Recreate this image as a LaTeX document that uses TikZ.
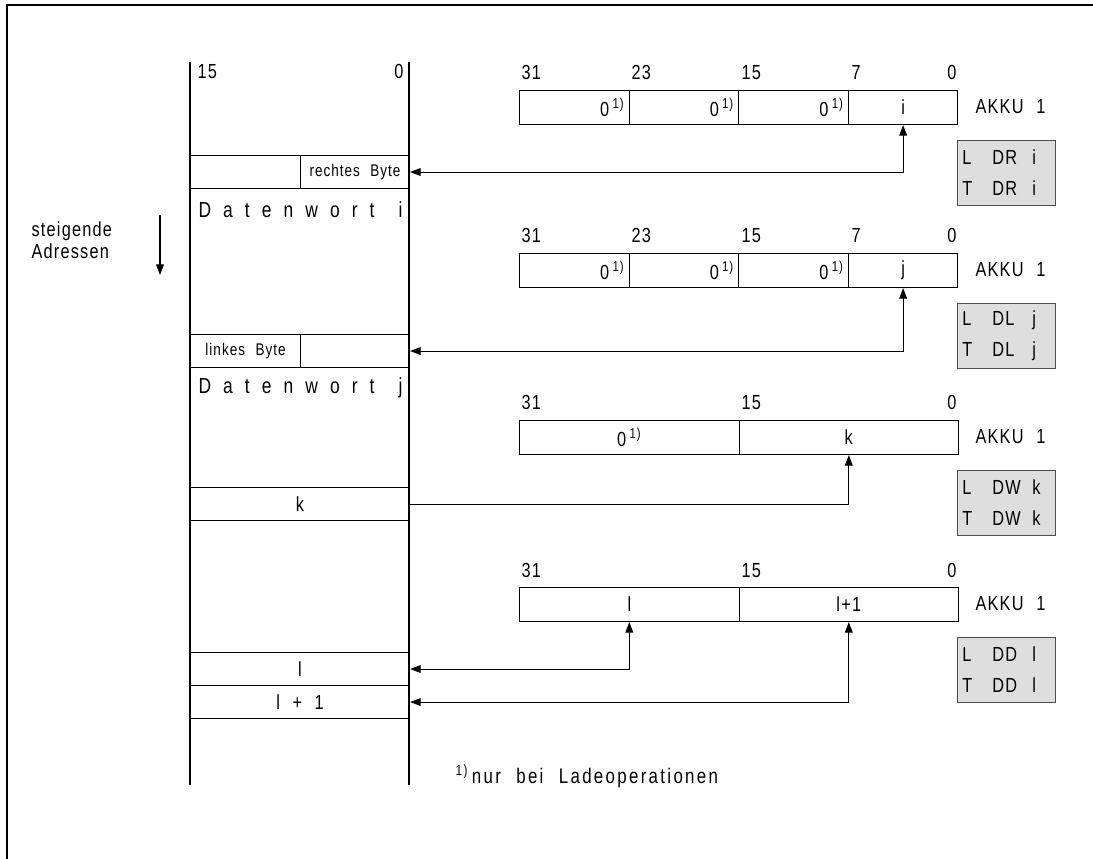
\documentclass[tikz,border=0pt]{standalone}
\usepackage{fontspec}
\setmainfont{Liberation Sans}[FakeStretch=0.8,LetterSpace=6,WordSpace=2.2]
\usetikzlibrary{arrows.meta}

\newcommand{\opzeile}[3]{\makebox[0.75cm][l]{#1}\makebox[1.0cm][l]{#2}#3}
\newcommand{\nulleins}{0\,\textsuperscript{1)}}

\tikzset{
  >={Triangle[length=7.5pt,width=5.5pt]},
  zelle/.style={draw, anchor=north west, inner sep=0pt, minimum height=0.85cm,
    font=\fontsize{14.5}{16}\selectfont},
  nullzelle/.style={zelle, minimum width=2.74cm, text width=2.5cm,
    inner xsep=0.12cm, align=right},
  speicher/.style={draw, anchor=north west, inner sep=0pt, minimum height=0.825cm,
    font=\fontsize{14.5}{16}\selectfont},
  kopf/.style={inner sep=0pt, font=\fontsize{14.5}{16}\selectfont},
  opbox/.style={draw=black!70, fill=black!13, anchor=north west,
    minimum width=2.45cm, minimum height=1.625cm, text width=2.21cm,
    inner xsep=0.12cm, align=left, font=\fontsize{14.5}{22}\selectfont},
}

\begin{document}
\begin{tikzpicture}[x=0.025cm, y=-0.025cm, line width=0.75pt]
    \useasboundingbox (0,0) rectangle (1093,859);
    % Rahmen
    \draw (1093,5) -- (7,5) -- (7,859);
    % Datenbaustein (Speicher)
    \draw (190,62) -- (190,785);
    \draw (409,62) -- (409,785);
    \node[kopf, anchor=base west] (m15) at (197,79) {15};
    \node[kopf, anchor=base east] (m0) at (404,79) {0};
    \node[speicher, minimum width=2.75cm] (rl) at (190,155) {};
    \node[speicher, minimum width=2.725cm, font=\fontsize{12}{14}\selectfont]
        (rb) at (300,155) {rechtes Byte};
    \node[kopf, anchor=west, font=\fontsize{15.5}{17}\selectfont] (dwi) at (198,210)
        {\makebox[5.1cm][l]{D\hfill a\hfill t\hfill e\hfill n\hfill w\hfill o\hfill r\hfill t\hfill\hfill i}};
    \node[speicher, minimum width=2.75cm, font=\fontsize{12}{14}\selectfont]
        (lb) at (190,334) {linkes Byte};
    \node[speicher, minimum width=2.725cm] (lr) at (300,334) {};
    \node[kopf, anchor=west, font=\fontsize{15.5}{17}\selectfont] (dwj) at (198,388)
        {\makebox[5.1cm][l]{D\hfill a\hfill t\hfill e\hfill n\hfill w\hfill o\hfill r\hfill t\hfill\hfill j}};
    \node[speicher, minimum width=5.475cm] (mk) at (190,487) {k};
    \node[speicher, minimum width=5.475cm] (ml) at (190,652) {l};
    \node[speicher, minimum width=5.475cm] (mlp) at (190,685) {l + 1};
    % Adressrichtung
    \node[kopf, anchor=north west, align=left, font=\fontsize{14.5}{15.5}\selectfont]
        (adr) at (31,221) {steigende\\Adressen};
    \coordinate (pa) at (160,215);
    \coordinate (pe) at (160,275);
    \draw[->] (pa) -- (pe);
    % Byte-Register (DR, DL)
    \foreach \n/\y/\v/\o in {1/90/i/DR, 2/253/j/DL}{
        \node[nullzelle] (r\n-a) at (519,\y) {\nulleins};
        \node[nullzelle] (r\n-b) at (628.6,\y) {\nulleins};
        \node[nullzelle] (r\n-c) at (738.2,\y) {\nulleins};
        \node[zelle, minimum width=2.74cm] (r\n-d) at (847.8,\y) {\v};
        \foreach \b/\xx in {31/521, 23/631, 15/741, 7/851}
            \node[kopf, anchor=base west] (k\n-\b) at (\xx,\y-10) {\b};
        \node[kopf, anchor=base east] (k\n-0) at (957,\y-10) {0};
        \node[kopf, anchor=west] (ak\n) at (975,\y+17) {AKKU 1};
        \node[opbox] (op\n) at (957,\y+50) {\opzeile{L}{\o}{\v}\\\opzeile{T}{\o}{\v}};
    }
    % Wort- und Doppelwort-Register (DW, DD)
    \foreach \n/\y/\u/\v in {3/420/\nulleins/k, 4/587/l/l+1}{
        \node[zelle, minimum width=5.4875cm] (r\n-a) at (519,\y) {\u};
        \node[zelle, minimum width=5.4875cm] (r\n-b) at (738.5,\y) {\v};
        \foreach \b/\xx in {31/521, 15/741}
            \node[kopf, anchor=base west] (k\n-\b) at (\xx,\y-10) {\b};
        \node[kopf, anchor=base east] (k\n-0) at (957,\y-10) {0};
        \node[kopf, anchor=west] (ak\n) at (975,\y+17) {AKKU 1};
    }
    \node[opbox] (op3) at (957,470) {\opzeile{L}{DW}{k}\\\opzeile{T}{DW}{k}};
    \node[opbox] (op4) at (957,637) {\opzeile{L}{DD}{l}\\\opzeile{T}{DD}{l}};
    % Verbindungen
    \draw[<->] (rb.east) -| (r1-d.south);
    \draw[<->] (lr.east) -| (r2-d.south);
    \draw[->] (mk.east) -| (r3-b.south);
    \draw[<->] (ml.east) -| (r4-a.south);
    \draw[<->] (mlp.east) -| (r4-b.south);
    % Fussnote
    \node[kopf, anchor=base west, font=\fontsize{15}{17}\selectfont\addfontfeature{LetterSpace=11}]
        (fn) at (455,783) {\textsuperscript{1)}\,nur bei Ladeoperationen};
\end{tikzpicture}
\end{document}
